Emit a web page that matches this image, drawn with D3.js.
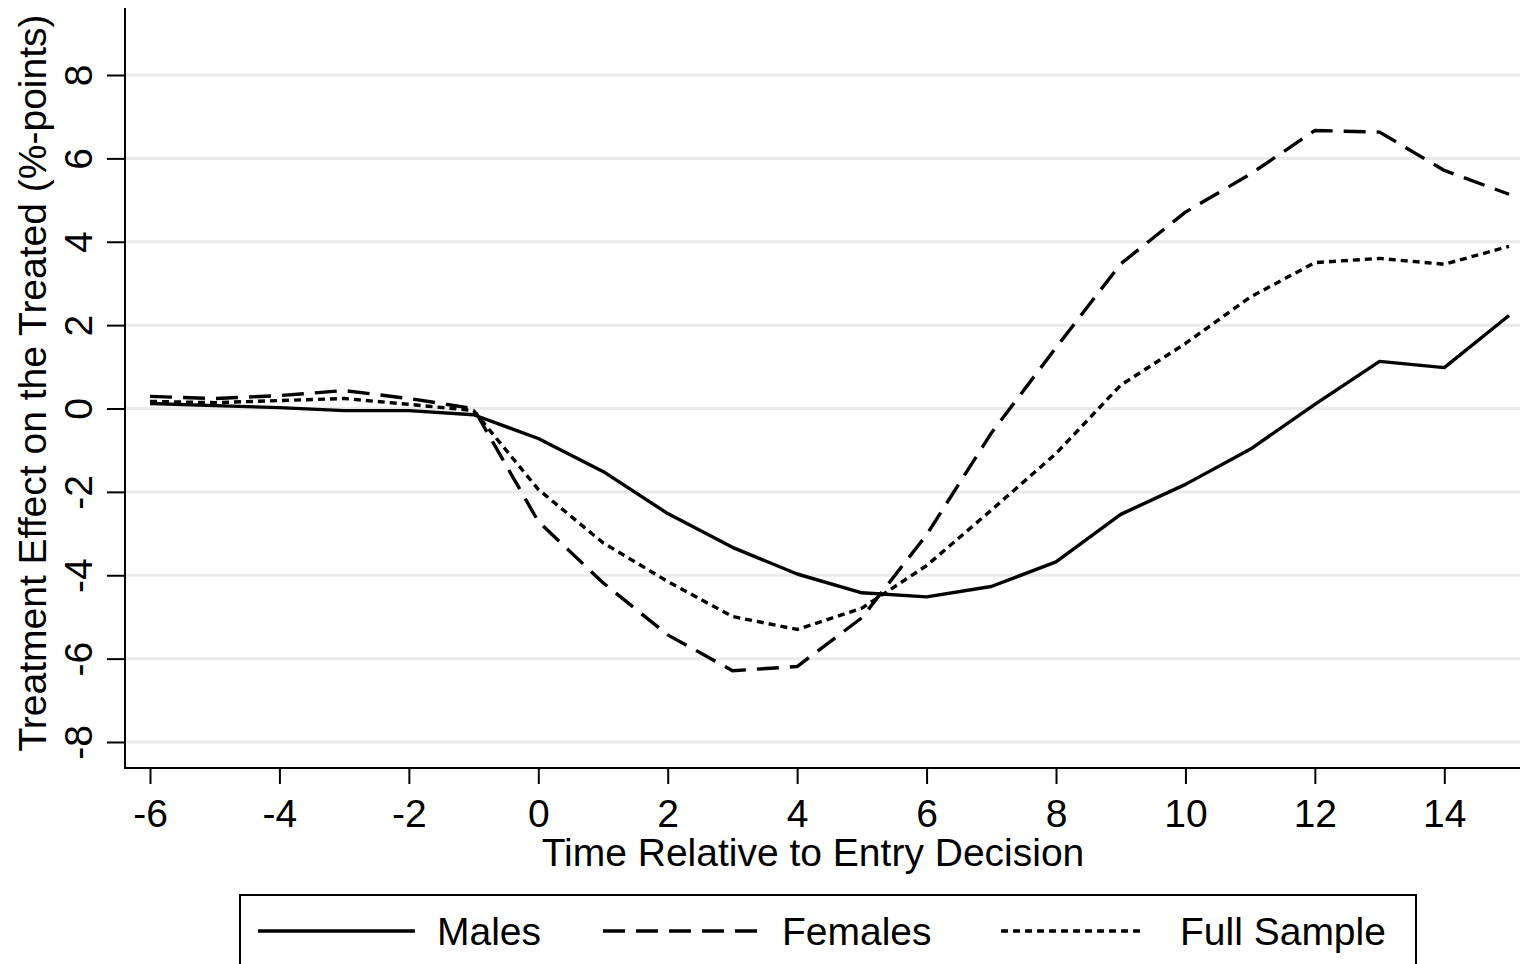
<!DOCTYPE html>
<html>
<head>
<meta charset="utf-8">
<script src="https://cdn.jsdelivr.net/npm/d3@7"></script>
<style>
  html, body { margin: 0; padding: 0; background: #fff; }
  svg { display: block; }
  text { font-family: "Liberation Sans", Arial, Helvetica, sans-serif; fill: #000; }
</style>
</head>
<body>
<svg id="chart" width="1520" height="964"></svg>
<script>
// ---- data ----
const periods = [-6,-5,-4,-3,-2,-1,0,1,2,3,4,5,6,7,8,9,10,11,12,13,14,15];
const males = [0.12,0.07,0.02,-0.05,-0.05,-0.15,-0.72,-1.51,-2.52,-3.33,-3.97,-4.42,-4.52,-4.27,-3.68,-2.54,-1.82,-0.98,0.10,1.13,0.98,2.23];
const females = [0.29,0.24,0.31,0.43,0.24,0.00,-2.71,-4.18,-5.43,-6.29,-6.19,-5.02,-3.03,-0.59,1.46,3.47,4.71,5.62,6.67,6.63,5.71,5.14];
const fullSample = [0.17,0.14,0.19,0.24,0.10,-0.05,-1.94,-3.22,-4.15,-4.99,-5.30,-4.79,-3.77,-2.44,-1.08,0.56,1.56,2.67,3.50,3.60,3.46,3.89];
const xTicks = [-6,-4,-2,0,2,4,6,8,10,12,14];
const yTicks = [-8,-6,-4,-2,0,2,4,6,8];
const seriesNames = ["Males","Females","Full Sample"];
const xTitle = "Time Relative to Entry Decision";
const yTitle = "Treatment Effect on the Treated (%-points)";

// ---- layout ----
const svg = d3.select("#chart");
const axisLeft = 125, axisBottom = 768, axisTop = 8, plotRight = 1520;
const x = d3.scaleLinear().domain([-6, 15]).range([150, 1509]);
const y = d3.scaleLinear().domain([-8, 8]).range([742, 75]);
const FS = 39;

const styles = [
  {dash: null},
  {dash: "22,11"},
  {dash: "7,5"}
];
const seriesData = [males, females, fullSample];

// gridlines
svg.append("g").selectAll("line").data(yTicks).join("line")
  .attr("x1", axisLeft).attr("x2", plotRight)
  .attr("y1", d => y(d)).attr("y2", d => y(d))
  .attr("stroke", "#eaeaea").attr("stroke-width", 3);

// lines
const line = d3.line().x((d, i) => x(periods[i])).y(d => y(d));
seriesData.forEach((s, k) => {
  svg.append("path").datum(s)
    .attr("d", line)
    .attr("fill", "none")
    .attr("stroke", "#000")
    .attr("stroke-width", 3.4)
    .attr("stroke-linejoin", "round")
    .attr("stroke-dasharray", styles[k].dash);
});

// y axis
const yAxis = d3.axisLeft(y).tickValues(yTicks).tickSize(18).tickSizeOuter(0).tickFormat(d3.format("d"));
const gy = svg.append("g").attr("transform", `translate(${axisLeft},0)`).call(yAxis);
gy.select(".domain").remove();
gy.selectAll(".tick line").attr("stroke", "#000").attr("stroke-width", 2);
gy.selectAll(".tick text").remove();
gy.selectAll(".tick").append("text")
  .attr("transform", "translate(-33,0) rotate(-90)")
  .attr("text-anchor", "middle")
  .attr("font-size", FS)
  .attr("fill", "#000")
  .text(d => d);
svg.append("line").attr("x1", axisLeft).attr("x2", axisLeft)
  .attr("y1", axisTop).attr("y2", axisBottom + 1)
  .attr("stroke", "#000").attr("stroke-width", 2);

// x axis
const xAxis = d3.axisBottom(x).tickValues(xTicks).tickSize(16).tickSizeOuter(0).tickFormat(d3.format("d"));
const gx = svg.append("g").attr("transform", `translate(0,${axisBottom})`).call(xAxis);
gx.select(".domain").remove();
gx.selectAll(".tick line").attr("stroke", "#000").attr("stroke-width", 2);
gx.selectAll(".tick text").remove();
gx.selectAll(".tick").append("text")
  .attr("y", 59)
  .attr("text-anchor", "middle")
  .attr("font-size", FS)
  .attr("fill", "#000")
  .text(d => d);
svg.append("line").attr("x1", axisLeft - 1).attr("x2", plotRight)
  .attr("y1", axisBottom).attr("y2", axisBottom)
  .attr("stroke", "#000").attr("stroke-width", 2);

// axis titles
svg.append("text").attr("x", 813).attr("y", 866)
  .attr("text-anchor", "middle").attr("font-size", FS).text(xTitle);
svg.append("text").attr("transform", "translate(46,383) rotate(-90)")
  .attr("text-anchor", "middle").attr("font-size", FS).text(yTitle);

// legend
const lg = svg.append("g");
lg.append("rect").attr("x", 240).attr("y", 895).attr("width", 1176).attr("height", 100)
  .attr("fill", "#fff").attr("stroke", "#000").attr("stroke-width", 2);
const legendItems = [
  {x1: 258, x2: 415, tx: 437},
  {x1: 603, x2: 757, tx: 782},
  {x1: 1001, x2: 1140, tx: 1180}
];
legendItems.forEach((it, k) => {
  lg.append("line").attr("x1", it.x1).attr("x2", it.x2).attr("y1", 931).attr("y2", 931)
    .attr("stroke", "#000").attr("stroke-width", 3.6)
    .attr("stroke-dasharray", styles[k].dash);
  lg.append("text").attr("x", it.tx).attr("y", 945).attr("font-size", FS).text(seriesNames[k]);
});
</script>
</body>
</html>
